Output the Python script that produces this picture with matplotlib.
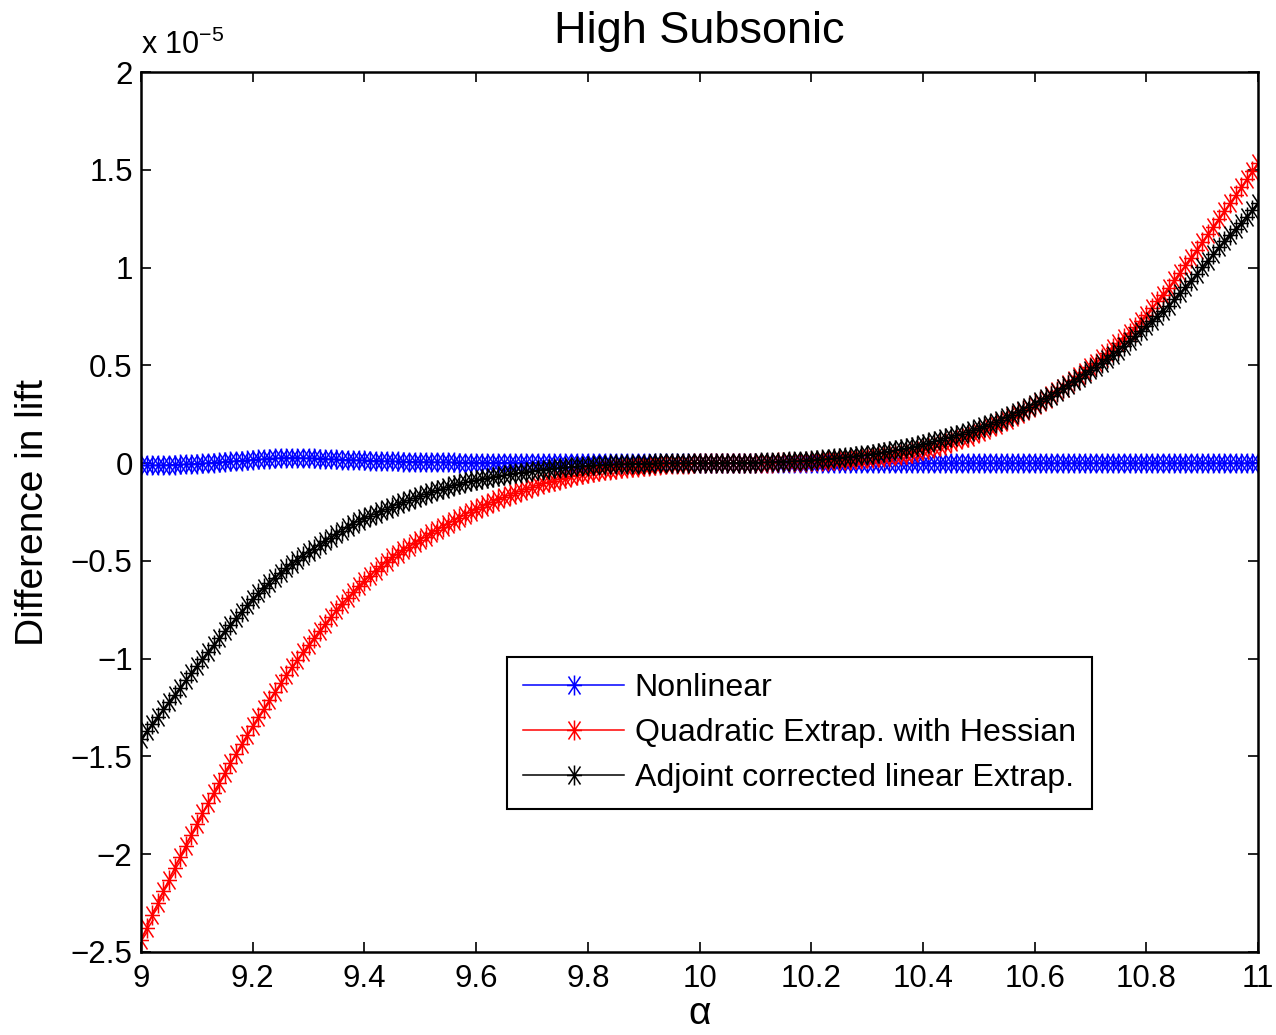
import numpy as np
import matplotlib
matplotlib.use("Agg")
import matplotlib.pyplot as plt
from matplotlib.path import Path
from matplotlib.ticker import FuncFormatter

plt.rcParams['font.family'] = ['Liberation Sans', 'DejaVu Sans']
plt.rcParams['mathtext.default'] = 'regular'

# angle of attack grid (step 0.01)
alpha = np.round(np.linspace(9, 11, 201), 2)

# difference in lift, units of 1e-5
nonlinear = [
    -0.012, -0.012, -0.011, -0.011, -0.010, -0.009, -0.008, -0.007, -0.006, -0.004,
    -0.003, -0.001, 0.001, 0.003, 0.005, 0.007, 0.009, 0.011, 0.013, 0.015,
    0.017, 0.019, 0.021, 0.023, 0.025, 0.026, 0.027, 0.027, 0.027, 0.026,
    0.025, 0.024, 0.023, 0.022, 0.020, 0.019, 0.018, 0.017, 0.016, 0.015,
    0.014, 0.013, 0.012, 0.011, 0.010, 0.009, 0.009, 0.008, 0.007, 0.007,
    0.006, 0.006, 0.005, 0.005, 0.004, 0.004, 0.004, 0.003, 0.003, 0.003,
    0.002, 0.002, 0.002, 0.002, 0.002, 0.002, 0.002, 0.002, 0.002, 0.002,
    0.002, 0.002, 0.002, 0.002, 0.002, 0.002, 0.002, 0.002, 0.002, 0.002,
    0.001, 0.001, 0.001, 0.001, 0.001, 0.001, 0.001, 0.001, 0.001, 0.001,
    0.001, 0.001, 0.001, 0.001, 0.001, 0.001, 0.001, 0.001, 0.001, 0.001,
    0.001, 0.001, 0.001, 0.001, 0.001, 0.001, 0.001, 0.001, 0.001, 0.001,
    0.001, 0.001, 0.001, 0.001, 0.001, 0.001, 0.001, 0.001, 0.001, 0.001,
    0.000, 0.000, 0.000, 0.000, 0.000, 0.000, 0.000, 0.000, 0.000, 0.000,
    0.000, 0.000, 0.000, 0.000, 0.000, 0.000, 0.000, 0.000, 0.000, 0.000,
    0.000, 0.000, 0.000, 0.000, 0.000, 0.000, 0.000, 0.000, 0.000, 0.000,
    0.000, 0.000, 0.000, 0.000, 0.000, 0.000, 0.000, 0.000, 0.000, 0.000,
    0.000, 0.000, 0.000, 0.000, 0.000, 0.000, 0.000, 0.000, 0.000, 0.000,
    0.000, 0.000, 0.000, 0.000, 0.000, 0.000, 0.000, 0.000, 0.000, 0.000,
    0.000, 0.000, 0.000, 0.000, 0.000, 0.000, 0.000, 0.000, 0.000, 0.000,
    0.000, 0.000, 0.000, 0.000, 0.000, 0.000, 0.000, 0.000, 0.000, 0.000,
    0.000,
]

quadratic = [
    -2.440, -2.376, -2.313, -2.251, -2.190, -2.130, -2.071, -2.013, -1.956, -1.900,
    -1.845, -1.791, -1.738, -1.686, -1.635, -1.584, -1.534, -1.485, -1.437, -1.390,
    -1.344, -1.299, -1.255, -1.211, -1.168, -1.126, -1.085, -1.045, -1.006, -0.968,
    -0.930, -0.893, -0.857, -0.822, -0.787, -0.752, -0.718, -0.688, -0.659, -0.630,
    -0.602, -0.576, -0.550, -0.527, -0.504, -0.482, -0.464, -0.446, -0.428, -0.411,
    -0.393, -0.376, -0.359, -0.343, -0.326, -0.310, -0.295, -0.279, -0.265, -0.250,
    -0.236, -0.223, -0.210, -0.197, -0.185, -0.174, -0.162, -0.152, -0.141, -0.131,
    -0.122, -0.113, -0.104, -0.096, -0.089, -0.081, -0.075, -0.068, -0.062, -0.057,
    -0.051, -0.046, -0.042, -0.037, -0.033, -0.030, -0.026, -0.023, -0.020, -0.018,
    -0.015, -0.013, -0.011, -0.009, -0.007, -0.006, -0.004, -0.003, -0.002, -0.001,
    0.000, 0.000, 0.000, 0.000, 0.000, 0.001, 0.001, 0.001, 0.001, 0.002,
    0.002, 0.002, 0.003, 0.003, 0.004, 0.004, 0.005, 0.006, 0.007, 0.008,
    0.009, 0.010, 0.011, 0.012, 0.014, 0.015, 0.017, 0.018, 0.020, 0.022,
    0.024, 0.027, 0.030, 0.033, 0.036, 0.040, 0.044, 0.049, 0.054, 0.060,
    0.067, 0.074, 0.081, 0.089, 0.097, 0.106, 0.116, 0.126, 0.136, 0.147,
    0.158, 0.170, 0.183, 0.195, 0.208, 0.222, 0.236, 0.250, 0.265, 0.280,
    0.296, 0.313, 0.330, 0.348, 0.367, 0.386, 0.405, 0.426, 0.447, 0.468,
    0.491, 0.514, 0.537, 0.562, 0.587, 0.612, 0.640, 0.668, 0.697, 0.729,
    0.760, 0.792, 0.827, 0.862, 0.897, 0.935, 0.973, 1.012, 1.051, 1.090,
    1.130, 1.170, 1.210, 1.250, 1.290, 1.330, 1.370, 1.410, 1.452, 1.494,
    1.535,
]

adjoint = [
    -1.410, -1.372, -1.334, -1.296, -1.259, -1.222, -1.185, -1.148, -1.111, -1.075,
    -1.038, -1.001, -0.965, -0.930, -0.895, -0.860, -0.826, -0.793, -0.760, -0.728,
    -0.696, -0.665, -0.638, -0.611, -0.585, -0.561, -0.538, -0.515, -0.495, -0.475,
    -0.455, -0.437, -0.418, -0.400, -0.381, -0.363, -0.345, -0.328, -0.311, -0.295,
    -0.282, -0.270, -0.258, -0.246, -0.234, -0.222, -0.210, -0.199, -0.188, -0.178,
    -0.167, -0.157, -0.148, -0.139, -0.130, -0.122, -0.114, -0.106, -0.099, -0.093,
    -0.086, -0.081, -0.075, -0.070, -0.065, -0.061, -0.056, -0.052, -0.048, -0.044,
    -0.040, -0.037, -0.033, -0.030, -0.027, -0.024, -0.022, -0.019, -0.017, -0.015,
    -0.013, -0.011, -0.010, -0.008, -0.007, -0.006, -0.005, -0.004, -0.003, -0.003,
    -0.002, -0.002, -0.001, -0.001, -0.001, 0.000, 0.000, 0.000, 0.000, 0.000,
    0.000, 0.000, 0.000, 0.000, 0.001, 0.001, 0.001, 0.002, 0.002, 0.003,
    0.003, 0.004, 0.005, 0.006, 0.007, 0.008, 0.009, 0.010, 0.012, 0.013,
    0.015, 0.017, 0.019, 0.022, 0.024, 0.027, 0.030, 0.033, 0.036, 0.040,
    0.043, 0.047, 0.051, 0.055, 0.060, 0.065, 0.070, 0.076, 0.082, 0.088,
    0.096, 0.104, 0.112, 0.119, 0.127, 0.135, 0.143, 0.151, 0.160, 0.169,
    0.178, 0.188, 0.199, 0.210, 0.222, 0.234, 0.247, 0.260, 0.274, 0.288,
    0.303, 0.317, 0.331, 0.345, 0.363, 0.382, 0.400, 0.418, 0.437, 0.456,
    0.474, 0.492, 0.510, 0.531, 0.553, 0.575, 0.599, 0.623, 0.648, 0.674,
    0.699, 0.725, 0.752, 0.779, 0.806, 0.837, 0.868, 0.899, 0.933, 0.967,
    1.001, 1.035, 1.069, 1.103, 1.134, 1.166, 1.197, 1.228, 1.259, 1.295,
    1.330,
]

labels = ["Nonlinear", "Quadratic Extrap. with Hessian", "Adjoint corrected linear Extrap."]
colors = ["#0000ff", "#ff0000", "#000000"]

xticks = [9, 9.2, 9.4, 9.6, 9.8, 10, 10.2, 10.4, 10.6, 10.8, 11]
yticks = [-2.5, -2, -1.5, -1, -0.5, 0, 0.5, 1, 1.5, 2]

# MATLAB style asterisk marker: plus + steep cross
verts = [(-0.75, 0), (0.75, 0), (0, -1), (0, 1),
         (-0.6, -0.9), (0.6, 0.9), (-0.6, 0.9), (0.6, -0.9)]
codes = [Path.MOVETO, Path.LINETO] * 4
asterisk = Path(verts, codes)

fig = plt.figure(figsize=(12.76, 10.35), dpi=100)
ax = fig.add_axes([0.1105, 0.0802, 0.8754, 0.8502])

for ys, c, lab in zip([nonlinear, quadratic, adjoint], colors, labels):
    ax.plot(alpha, ys, color=c, linewidth=1.1, marker=asterisk, markersize=14.4,
            markeredgewidth=1.1, markerfacecolor='none', label=lab)

ax.set_xlim(9, 11)
ax.set_ylim(-2.5, 2)
ax.set_xticks(xticks)
ax.set_yticks(yticks)
fmt = FuncFormatter(lambda v, p: ('%g' % v).replace('-', '\u2212'))
ax.xaxis.set_major_formatter(fmt)
ax.yaxis.set_major_formatter(fmt)
ax.tick_params(direction='in', length=7.5, width=1.2, top=True, right=True,
               labelsize=22.5)
ax.tick_params(axis='x', pad=9)
ax.tick_params(axis='y', pad=6)
for s in ax.spines.values():
    s.set_linewidth(1.8)

ax.set_title("High Subsonic", fontsize=32.5, pad=21)
ax.set_xlabel("\u03b1", fontsize=28, labelpad=1)
ax.set_ylabel("Difference in lift", fontsize=28, labelpad=14)
ax.text(0, 1.012, r"x 10$^{-5}$", transform=ax.transAxes, fontsize=22,
        ha='left', va='bottom')

leg = ax.legend(loc='upper left', bbox_to_anchor=(0.3277, 0.3352), borderaxespad=0,
                fontsize=23.1, handlelength=3.15, handletextpad=0.33, borderpad=0.5,
                labelspacing=0.47, fancybox=False, framealpha=1, edgecolor='black')
leg.get_frame().set_linewidth(1.5)

fig.savefig("out.png", dpi=100)
